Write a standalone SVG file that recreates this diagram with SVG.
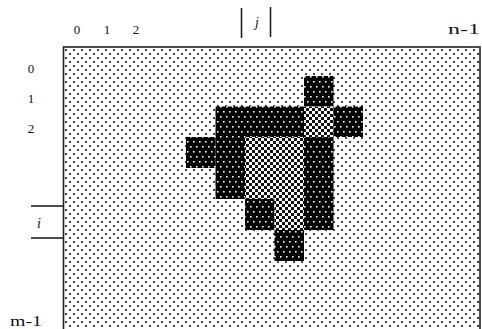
<svg xmlns="http://www.w3.org/2000/svg" width="482" height="329" viewBox="0 0 482 329">
<style>
.t{font-family:"Liberation Serif","DejaVu Serif",serif;font-size:13px;fill:#111}
.tw{font-family:"Liberation Serif","DejaVu Serif",serif;font-size:14px;fill:#111}
.ti{font-family:"Liberation Serif","DejaVu Serif",serif;font-size:14px;font-style:italic;fill:#111}
.ln{stroke:#222;stroke-width:1.6;fill:none}
.frame{stroke:#222;stroke-width:1.6;fill:url(#pBg)}
.blk{fill:url(#pBlk)}
.med{fill:url(#pMed)}
</style>
<defs>
<pattern id="pBg" patternUnits="userSpaceOnUse" width="8" height="8">
<rect width="8" height="8" fill="#fff"/>
<rect x="1" y="1" width="2" height="2" fill="#444"/>
<rect x="5" y="5" width="2" height="2" fill="#444"/>
</pattern>
<pattern id="pMed" patternUnits="userSpaceOnUse" width="6" height="6">
<rect width="6" height="6" fill="#fff"/>
<rect x="0" y="0" width="3" height="3" fill="#111"/>
<rect x="3" y="3" width="3" height="3" fill="#111"/>
</pattern>
<pattern id="pBlk" patternUnits="userSpaceOnUse" width="6" height="10">
<rect width="6" height="10" fill="#000"/>
<rect x="1" y="1" width="1.6" height="1.6" fill="#fff"/>
<rect x="4" y="6" width="1.6" height="1.6" fill="#fff"/>
</pattern>
</defs>
<rect width="482" height="329" fill="#fff"/>
<g id="grid">
<rect class="frame" x="63.5" y="47" width="416.5" height="300"/>
</g>
<g id="labels">
<text class="t" x="77" y="34" text-anchor="middle">0</text>
<text class="t" x="107" y="34" text-anchor="middle">1</text>
<text class="t" x="136" y="34" text-anchor="middle">2</text>
<text class="tw" x="448" y="34" textLength="32" lengthAdjust="spacingAndGlyphs">n-1</text>
<text class="t" x="31" y="73" text-anchor="middle">0</text>
<text class="t" x="31" y="103" text-anchor="middle">1</text>
<text class="t" x="31" y="133" text-anchor="middle">2</text>
<text class="tw" x="10" y="326" textLength="32" lengthAdjust="spacingAndGlyphs">m-1</text>
</g>
<g id="colmark">
<line class="ln" x1="241.5" y1="8" x2="241.5" y2="38"/>
<line class="ln" x1="270.5" y1="7" x2="270.5" y2="37"/>
<text class="ti" x="257" y="27" text-anchor="middle">j</text>
</g>
<g id="rowmark">
<line class="ln" x1="31" y1="206" x2="63" y2="206"/>
<line class="ln" x1="31" y1="238" x2="63" y2="238"/>
<text class="ti" x="39" y="228" text-anchor="middle">i</text>
</g>
<g id="cells">
<rect class="blk" x="304" y="76" width="29.5" height="30.5"/>
<rect class="blk" x="215.5" y="106.5" width="88.5" height="30.5"/>
<rect class="med" x="304" y="106.5" width="29.5" height="30.5"/>
<rect class="blk" x="333.5" y="106.5" width="29.5" height="30.5"/>
<rect class="blk" x="186" y="137" width="29.5" height="31"/>
<rect class="blk" x="215.5" y="137" width="29.5" height="62"/>
<rect class="med" x="245" y="137" width="59" height="62"/>
<rect class="blk" x="304" y="137" width="29.5" height="93"/>
<rect class="blk" x="245" y="199" width="29.5" height="31"/>
<rect class="med" x="274.5" y="199" width="29.5" height="31"/>
<rect class="blk" x="274.5" y="230" width="29.5" height="31"/>
</g>
</svg>
